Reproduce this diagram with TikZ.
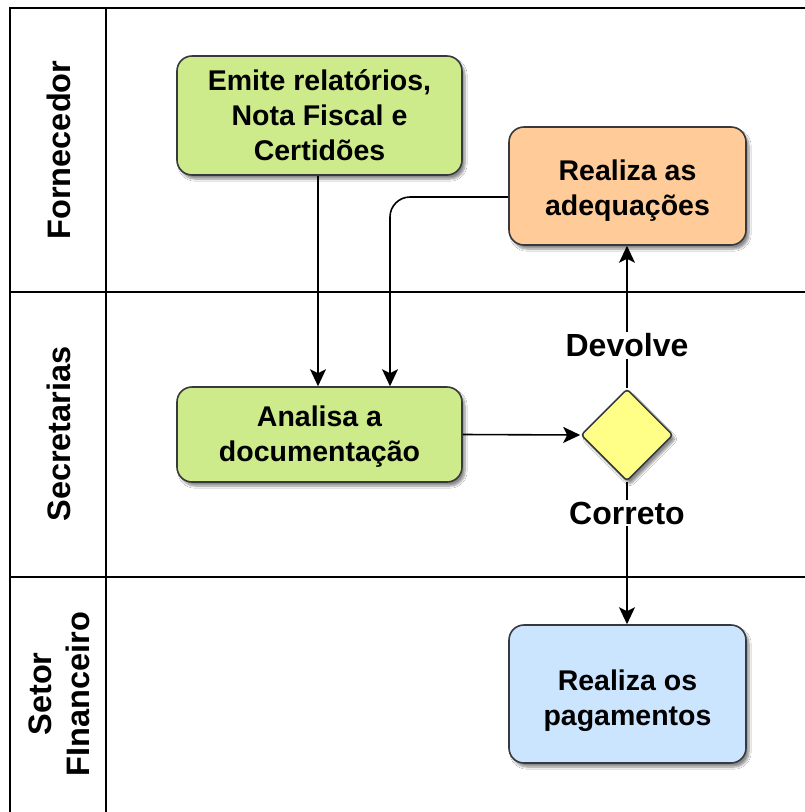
\documentclass[tikz,border=0pt]{standalone}
\usepackage{fontspec}
\setmainfont{Liberation Sans}
\usetikzlibrary{shapes.geometric,arrows.meta,shadows.blur,calc}
\definecolor{strokeC}{HTML}{36393D}
\definecolor{greenF}{HTML}{CDEB8B}
\definecolor{orangeF}{HTML}{FFCC99}
\definecolor{blueF}{HTML}{CCE5FF}
\definecolor{yellowF}{HTML}{FFFF88}
\tikzset{
  lane/.style={line width=2pt, draw=black},
  lanelabel/.style={rotate=90, font=\fontsize{32.5}{38}\selectfont\bfseries, align=center, inner sep=0},
  task/.style={draw=strokeC, line width=1.6pt, rounded corners=15pt, inner sep=0,
    blur shadow={shadow xshift=3pt, shadow yshift=-4pt, shadow blur steps=8, shadow opacity=45}},
  tasktext/.style={align=center, font=\fontsize{28.5}{35}\selectfont\bfseries, inner sep=0},
  gate/.style={diamond, draw=strokeC, fill=yellowF, line width=1.6pt, inner sep=0, aspect=1,
    minimum width=92pt, minimum height=92pt, rounded corners=3pt,
    blur shadow={shadow xshift=3pt, shadow yshift=-4pt, shadow blur steps=8, shadow opacity=45}},
  flow/.style={line width=1.6pt, draw=black, -{Stealth[length=17pt,width=16pt,inset=4pt]}},
  flowlabel/.style={fill=white, font=\fontsize{32}{38}\selectfont\bfseries, inner sep=2pt}
}
\begin{document}
\begin{tikzpicture}[x=1pt,y=-1pt]
\useasboundingbox (0,0) rectangle (805,812);
\fill[white] (0,0) rectangle (805,812);
\begin{scope}
\clip (0,0) rectangle (805,812);
\draw[lane] (10,830) -- (10,8) -- (830,8);
\draw[lane] (106,8) -- (106,830);
\draw[lane] (10,292) -- (830,292);
\draw[lane] (10,577) -- (830,577);
\end{scope}
\node[lanelabel] (l1) at (59,150) {Fornecedor};
\node[lanelabel] (l2) at (59,434) {Secretarias};
\node[lanelabel] (l3) at (59,694) {Setor\\FInanceiro};

\node[task, fill=greenF, minimum width=285pt, minimum height=119pt] (emite) at (319.5,115.5) {};
\node[tasktext] (emitet) at ($(emite.center)+(0,0)$) {Emite relatórios,\\Nota Fiscal e\\Certidões};
\node[task, fill=orangeF, minimum width=237pt, minimum height=118pt] (adeq) at (627.5,186) {};
\node[tasktext] (adeqt) at ($(adeq.center)+(0,5)$) {Realiza as\\adequações};
\node[task, fill=greenF, minimum width=285pt, minimum height=95pt] (analisa) at (319.5,434.5) {};
\node[tasktext] (analisat) at ($(analisa.center)+(0,2.5)$) {Analisa a\\documentação};
\node[gate] (dec) at (627,435) {};
\node[task, fill=blueF, minimum width=237pt, minimum height=138pt] (pag) at (627.5,694) {};
\node[tasktext] (pagt) at ($(pag.center)+(0,7)$) {Realiza os\\pagamentos};

\coordinate (jx) at (390,0);
\coordinate (ex) at (318,0);
\coordinate (ay) at (0,197);
\draw[flow] (emite.south -| ex) -- (analisa.north -| ex);
\draw[flow, rounded corners=20pt] (adeq.west |- ay) -| (jx |- analisa.north);
\draw[flow] (analisa.east) -- (dec.west);
\draw[flow] (dec.north) -- (dec.north |- adeq.south) node[flowlabel, pos=0.3] (dev) {Devolve};
\draw[flow] (dec.south) -- (dec.south |- pag.north) node[flowlabel, pos=0.22] (cor) {Correto};
\end{tikzpicture}
\end{document}
